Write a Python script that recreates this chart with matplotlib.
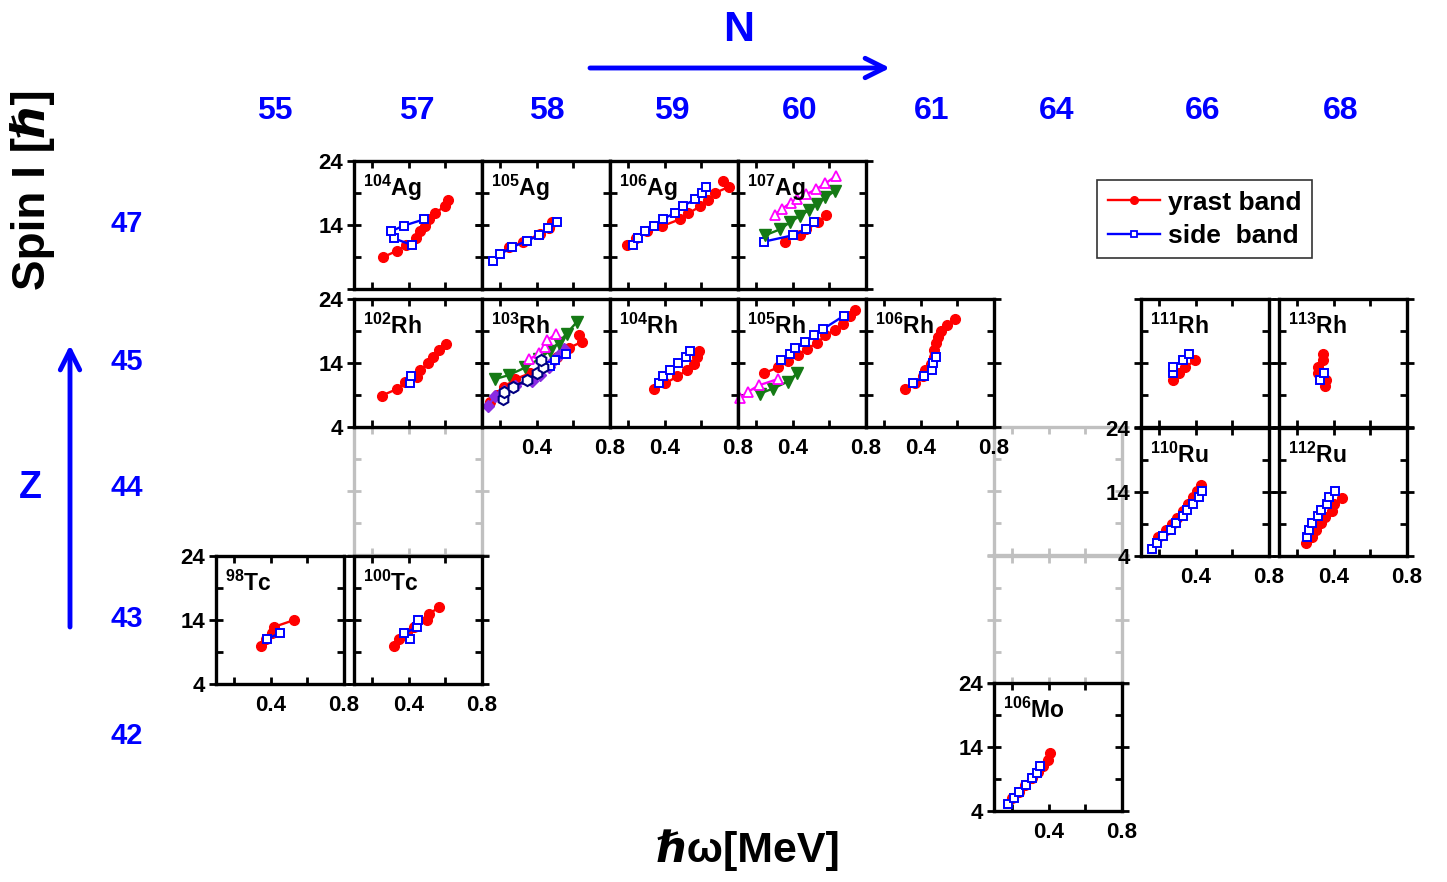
import matplotlib
matplotlib.use('Agg')
import matplotlib.pyplot as plt
from matplotlib.ticker import FixedLocator, FixedFormatter, NullFormatter
from matplotlib.lines import Line2D
from matplotlib.patches import FancyArrowPatch

plt.rcParams['font.family'] = ['Liberation Sans', 'DejaVu Sans']
plt.rcParams['font.weight'] = 'bold'
plt.rcParams['mathtext.fontset'] = 'custom'
plt.rcParams['mathtext.rm'] = 'Liberation Sans:bold'
plt.rcParams['mathtext.bf'] = 'Liberation Sans:bold'
plt.rcParams['mathtext.default'] = 'bf'

# ---------------- data (hbar*omega [MeV], spin I [hbar]) ----------------
N_values = ['55', '57', '58', '59', '60', '61', '64', '66', '68']
Z_values = ['47', '45', '44', '43', '42']

ag104_y_w = [0.257, 0.337, 0.384, 0.439, 0.461, 0.488, 0.510, 0.543, 0.598, 0.616]
ag104_y_I = [8.95, 10.0, 10.8, 11.9, 13.0, 13.8, 14.9, 15.9, 16.9, 17.9]
ag104_s_w = [0.415, 0.319, 0.300, 0.373, 0.485]
ag104_s_I = [10.9, 11.9, 13.0, 13.9, 14.9]

ag105_y_w = [0.249, 0.326, 0.417, 0.468, 0.481]
ag105_y_I = [10.5, 11.4, 12.6, 13.6, 14.5]
ag105_s_w = [0.158, 0.198, 0.262, 0.344, 0.414, 0.461, 0.508]
ag105_s_I = [8.4, 9.4, 10.5, 11.5, 12.4, 13.5, 14.4]

ag106_y_w = [0.191, 0.242, 0.300, 0.383, 0.483, 0.528, 0.592, 0.638, 0.674, 0.753, 0.716]
ag106_y_I = [10.9, 11.9, 13.0, 13.8, 14.9, 15.8, 16.9, 17.9, 19.0, 20.0, 20.9]
ag106_s_w = [0.228, 0.255, 0.291, 0.341, 0.388, 0.455, 0.501, 0.565, 0.601, 0.625]
ag106_s_I = [10.9, 11.9, 13.0, 13.8, 14.9, 15.9, 17.0, 18.0, 19.0, 20.0]

ag107_y_w = [0.355, 0.437, 0.474, 0.538, 0.583]
ag107_y_I = [11.4, 12.4, 13.3, 14.4, 15.5]
ag107_s_w = [0.242, 0.401, 0.474, 0.516]
ag107_s_I = [11.4, 12.4, 13.3, 14.5]
ag107_g_w = [0.249, 0.328, 0.383, 0.437, 0.486, 0.534, 0.578, 0.629]
ag107_g_I = [12.4, 13.3, 14.4, 15.4, 16.3, 17.3, 18.3, 19.3]
ag107_m_w = [0.300, 0.341, 0.388, 0.424, 0.474, 0.528, 0.578, 0.638]
ag107_m_I = [15.6, 16.5, 17.5, 18.0, 18.8, 19.6, 20.5, 21.7]

rh102_y_w = [0.251, 0.333, 0.379, 0.446, 0.461, 0.507, 0.530, 0.567, 0.603]
rh102_y_I = [8.9, 9.9, 11.0, 11.8, 12.9, 14.0, 15.0, 16.0, 16.9]
rh102_s_w = [0.406, 0.410]
rh102_s_I = [10.9, 11.9]

rh103_y_w = [0.146, 0.180, 0.218, 0.282, 0.364, 0.437, 0.510, 0.578, 0.647, 0.629]
rh103_y_I = [7.9, 9.0, 10.2, 11.5, 12.4, 13.6, 15.0, 16.4, 17.3, 18.4]
rh103_s_w = [0.470, 0.501, 0.559]
rh103_s_I = [13.5, 14.4, 15.4]
rh103_g_w = [0.173, 0.246, 0.337, 0.410, 0.470, 0.520, 0.563, 0.618]
rh103_g_I = [11.5, 12.1, 13.3, 14.6, 15.9, 17.2, 18.6, 20.4]
rh103_m_w = [0.359, 0.413, 0.445, 0.457, 0.505]
rh103_m_I = [14.6, 15.5, 16.5, 17.6, 18.5]
rh103_p_w = [0.133, 0.173, 0.220, 0.280, 0.373, 0.419, 0.465, 0.492, 0.528, 0.547]
rh103_p_I = [7.3, 8.9, 9.7, 10.4, 11.2, 12.1, 13.3, 14.4, 15.4, 16.2]
rh103_h_w = [0.213, 0.220, 0.271, 0.344, 0.399, 0.435, 0.423]
rh103_h_I = [8.3, 9.4, 10.3, 11.3, 12.4, 13.3, 14.4]

rh104_y_w = [0.341, 0.401, 0.468, 0.523, 0.559, 0.578, 0.587]
rh104_y_I = [9.9, 10.8, 11.9, 12.9, 13.8, 14.9, 15.9]
rh104_s_w = [0.370, 0.392, 0.428, 0.474, 0.516, 0.538]
rh104_s_I = [10.9, 12.0, 12.9, 14.0, 14.9, 15.9]

rh105_y_w = [0.242, 0.319, 0.373, 0.428, 0.479, 0.534, 0.578, 0.629, 0.674, 0.711, 0.742]
rh105_y_I = [12.4, 13.3, 14.3, 15.3, 16.2, 17.2, 18.3, 19.2, 20.1, 21.3, 22.3]
rh105_s_w = [0.337, 0.386, 0.414, 0.468, 0.516, 0.565, 0.680]
rh105_s_I = [14.4, 15.4, 16.3, 17.3, 18.4, 19.3, 21.4]
rh105_m_w = [0.109, 0.155, 0.213, 0.319]
rh105_m_I = [8.5, 9.5, 10.5, 11.5]
rh105_g_w = [0.218, 0.291, 0.373, 0.424]
rh105_g_I = [9.2, 10.0, 11.1, 12.4]

rh106_y_w = [0.313, 0.370, 0.410, 0.423, 0.455, 0.470, 0.474, 0.483, 0.496, 0.509, 0.542, 0.584]
rh106_y_I = [9.9, 10.9, 11.9, 12.9, 13.9, 15.0, 16.1, 17.1, 18.0, 19.05, 19.9, 20.8]
rh106_s_w = [0.355, 0.417, 0.459, 0.468, 0.483]
rh106_s_I = [10.8, 11.9, 12.9, 13.95, 15.0]

rh111_y_w = [0.273, 0.310, 0.341, 0.395]
rh111_y_I = [11.3, 12.4, 13.3, 14.4]
rh111_s_w = [0.273, 0.273, 0.332, 0.364]
rh111_s_I = [12.4, 13.4, 14.5, 15.4]

rh113_y_w = [0.352, 0.357, 0.315, 0.311, 0.342, 0.339]
rh113_y_I = [10.4, 11.3, 12.5, 13.4, 14.4, 15.4]
rh113_s_w = [0.324, 0.346]
rh113_s_I = [11.4, 12.4]

ru110_y_w = [0.195, 0.237, 0.270, 0.299, 0.328, 0.359, 0.383, 0.408, 0.426]
ru110_y_I = [7.0, 8.1, 9.0, 10.0, 11.1, 12.1, 13.2, 14.2, 15.1]
ru110_s_w = [0.158, 0.186, 0.222, 0.264, 0.291, 0.328, 0.353, 0.383, 0.419, 0.432]
ru110_s_I = [5.1, 6.1, 7.1, 8.1, 9.1, 10.2, 11.2, 12.2, 13.2, 14.1]

ru112_y_w = [0.248, 0.279, 0.302, 0.328, 0.352, 0.388, 0.401, 0.443]
ru112_y_I = [6.0, 7.0, 8.1, 9.1, 10.1, 11.1, 12.1, 13.0]
ru112_s_w = [0.251, 0.264, 0.279, 0.311, 0.328, 0.361, 0.373, 0.406]
ru112_s_I = [7.0, 8.1, 9.1, 10.2, 11.2, 12.1, 13.2, 14.1]

tc98_y_w = [0.346, 0.373, 0.405, 0.415, 0.528]
tc98_y_I = [9.9, 11.0, 11.9, 12.9, 14.0]
tc98_s_w = [0.379, 0.452]
tc98_s_I = [11.0, 12.0]

tc100_y_w = [0.317, 0.348, 0.390, 0.430, 0.499, 0.512, 0.567]
tc100_y_I = [9.9, 11.0, 11.9, 12.9, 13.95, 15.0, 16.0]
tc100_s_w = [0.408, 0.375, 0.445, 0.448]
tc100_s_I = [11.0, 11.9, 12.9, 13.95]

mo106_y_w = [0.200, 0.235, 0.270, 0.310, 0.340, 0.370, 0.394, 0.408]
mo106_y_I = [6.1, 7.0, 8.0, 9.1, 10.1, 11.0, 12.0, 13.0]
mo106_s_w = [0.175, 0.208, 0.239, 0.275, 0.306, 0.335, 0.353]
mo106_s_I = [5.1, 6.1, 7.0, 8.1, 9.1, 10.0, 11.0]

# ---------------- styles ----------------
STY = {
    'y': dict(color='#ff0000', marker='o', ms=7.0, mfc='#ff0000', mec='#ff0000', lw=1.7),
    's': dict(color='#0000ff', marker='s', ms=6.3, mfc='white', mec='#0000ff', mew=1.4, lw=1.7),
    'g': dict(color='#157a15', marker='v', ms=8.0, mfc='#157a15', mec='#157a15', lw=1.7),
    'm': dict(color='#ff00ff', marker='^', ms=7.5, mfc='white', mec='#ff00ff', mew=1.3, lw=1.7),
    'p': dict(color='#8a2be2', marker='D', ms=6.3, mfc='#8a2be2', mec='#8a2be2', lw=1.7),
    'h': dict(color='#000080', marker='h', ms=8.0, mfc='white', mec='#000080', mew=1.5, lw=1.7),
}
ORDER = ['y', 'p', 's', 'g', 'm', 'h']

W, H = 1447, 882
fig = plt.figure(figsize=(W / 100, H / 100), dpi=100)

def fx(px):
    return px / W

def fy(py):
    return 1 - py / H

S = 128

def make_axes(left, top, grey=False):
    ax = fig.add_axes([fx(left), fy(top + S), S / W, S / H])
    ax.set_xlim(0.1, 0.8)
    ax.set_ylim(4, 24)
    ax.xaxis.set_major_locator(FixedLocator([0.2, 0.4, 0.6, 0.8]))
    ax.yaxis.set_major_locator(FixedLocator([4, 14, 24]))
    ax.yaxis.set_minor_locator(FixedLocator([9, 19]))
    col = '#c0c0c0' if grey else 'black'
    ax.tick_params(axis='x', which='major', direction='in', length=5, width=2,
                   top=True, bottom=True, color=col, labelsize=16, pad=8)
    ax.tick_params(axis='y', which='major', direction='inout', length=10, width=2,
                   left=True, right=True, color=col, labelsize=16, pad=3)
    ax.tick_params(axis='y', which='minor', direction='in', length=5, width=2,
                   left=True, right=True, color=col)
    for sp in ax.spines.values():
        sp.set_linewidth(2.4)
        sp.set_color(col)
    ax.xaxis.set_major_formatter(NullFormatter())
    ax.yaxis.set_major_formatter(NullFormatter())
    if grey:
        ax.set_zorder(0)
        ax.patch.set_alpha(0)
    else:
        ax.set_zorder(2)
    return ax

# grey empty frames
make_axes(354, 427, grey=True)
make_axes(994, 427, grey=True)
make_axes(994, 556, grey=True)

panels = [
    # (label mass, symbol, left, top, series, xlabels, ylabels)
    ('104', 'Ag', 354, 161, {'y': (ag104_y_w, ag104_y_I), 's': (ag104_s_w, ag104_s_I)}, False, ['', '14', '24']),
    ('105', 'Ag', 482, 161, {'y': (ag105_y_w, ag105_y_I), 's': (ag105_s_w, ag105_s_I)}, False, None),
    ('106', 'Ag', 610, 161, {'y': (ag106_y_w, ag106_y_I), 's': (ag106_s_w, ag106_s_I)}, False, None),
    ('107', 'Ag', 738, 161, {'y': (ag107_y_w, ag107_y_I), 's': (ag107_s_w, ag107_s_I),
                             'g': (ag107_g_w, ag107_g_I), 'm': (ag107_m_w, ag107_m_I)}, False, None),
    ('102', 'Rh', 354, 299, {'y': (rh102_y_w, rh102_y_I), 's': (rh102_s_w, rh102_s_I)}, False, ['4', '14', '24']),
    ('103', 'Rh', 482, 299, {'y': (rh103_y_w, rh103_y_I), 's': (rh103_s_w, rh103_s_I),
                             'g': (rh103_g_w, rh103_g_I), 'm': (rh103_m_w, rh103_m_I),
                             'p': (rh103_p_w, rh103_p_I), 'h': (rh103_h_w, rh103_h_I)}, True, None),
    ('104', 'Rh', 610, 299, {'y': (rh104_y_w, rh104_y_I), 's': (rh104_s_w, rh104_s_I)}, True, None),
    ('105', 'Rh', 738, 299, {'y': (rh105_y_w, rh105_y_I), 's': (rh105_s_w, rh105_s_I),
                             'm': (rh105_m_w, rh105_m_I), 'g': (rh105_g_w, rh105_g_I)}, True, None),
    ('106', 'Rh', 866, 299, {'y': (rh106_y_w, rh106_y_I), 's': (rh106_s_w, rh106_s_I)}, True, None),
    ('111', 'Rh', 1141, 299, {'y': (rh111_y_w, rh111_y_I), 's': (rh111_s_w, rh111_s_I)}, False, None),
    ('113', 'Rh', 1279, 299, {'y': (rh113_y_w, rh113_y_I), 's': (rh113_s_w, rh113_s_I)}, False, None),
    ('110', 'Ru', 1141, 428, {'y': (ru110_y_w, ru110_y_I), 's': (ru110_s_w, ru110_s_I)}, True, ['4', '14', '24']),
    ('112', 'Ru', 1279, 428, {'y': (ru112_y_w, ru112_y_I), 's': (ru112_s_w, ru112_s_I)}, True, None),
    ('98', 'Tc', 216, 556, {'y': (tc98_y_w, tc98_y_I), 's': (tc98_s_w, tc98_s_I)}, True, ['4', '14', '24']),
    ('100', 'Tc', 354, 556, {'y': (tc100_y_w, tc100_y_I), 's': (tc100_s_w, tc100_s_I)}, True, None),
    ('106', 'Mo', 994, 683, {'y': (mo106_y_w, mo106_y_I), 's': (mo106_s_w, mo106_s_I)}, True, ['4', '14', '24']),
]

for mass, sym, left, top, series, xl, yl in panels:
    ax = make_axes(left, top)
    for key in ORDER:
        if key in series:
            w, I = series[key]
            ax.plot(w, I, clip_on=False, **STY[key])
    if xl:
        ax.xaxis.set_major_formatter(FixedFormatter(['', '0.4', '', '0.8']))
    if yl:
        ax.yaxis.set_major_formatter(FixedFormatter(yl))
    ax.text(0.07, 0.73, r'$^{%s}$%s' % (mass, sym), transform=ax.transAxes,
            fontsize=16.5, fontweight='bold', ha='left', va='baseline', zorder=5)

# legend
handles = [Line2D([], [], color='#ff0000', marker='o', ms=5.5, mfc='#ff0000', mec='#ff0000', lw=1.7),
           Line2D([], [], color='#0000ff', marker='s', ms=5.0, mfc='white', mec='#0000ff', mew=1.3, lw=1.7)]
leg = fig.legend(handles, ['yrast band', 'side  band'], loc='upper left',
                 bbox_to_anchor=(fx(1097), fy(180)), frameon=True, fancybox=False,
                 edgecolor='black', fontsize=19, handlelength=2.0, handletextpad=0.3,
                 borderpad=0.4, labelspacing=0.35, borderaxespad=0)
leg.get_frame().set_linewidth(1.2)
for t in leg.get_texts():
    t.set_fontweight('bold')

# N and Z labels
N_x = [275, 417, 547, 672, 800, 932, 1057, 1203, 1341]
for lab, px in zip(N_values, N_x):
    fig.text(fx(px), fy(111), lab, color='#0000ff', fontsize=23, fontweight='bold',
             ha='center', va='center')
Z_y = [224, 362, 488, 619, 736]
for lab, py in zip(Z_values, Z_y):
    fig.text(fx(127), fy(py), lab, color='#0000ff', fontsize=21, fontweight='bold',
             ha='center', va='center')

fig.text(fx(739), fy(30), 'N', color='#0000ff', fontsize=31, fontweight='bold',
         ha='center', va='center')
fig.text(fx(30), fy(488), 'Z', color='#0000ff', fontsize=27, fontweight='bold',
         ha='center', va='center')

arrN = FancyArrowPatch((fx(590), fy(68)), (fx(890), fy(68)), transform=fig.transFigure,
                       arrowstyle='->,head_length=14,head_width=7', color='#0000ff', lw=3.5,
                       mutation_scale=1, shrinkA=0, shrinkB=0)
fig.patches.append(arrN)
arrZ = FancyArrowPatch((fx(70), fy(627)), (fx(70), fy(345)), transform=fig.transFigure,
                       arrowstyle='->,head_length=14,head_width=7', color='#0000ff', lw=3.5,
                       mutation_scale=1, shrinkA=0, shrinkB=0)
fig.patches.append(arrZ)

fig.text(fx(33), fy(190), 'Spin I [\u210f]', rotation=90, fontsize=33, fontweight='bold',
         ha='center', va='center')
fig.text(fx(748), fy(850), '\u210f\u03c9[MeV]', fontsize=31, fontweight='bold',
         ha='center', va='center')

fig.savefig('out.png', dpi=100)
